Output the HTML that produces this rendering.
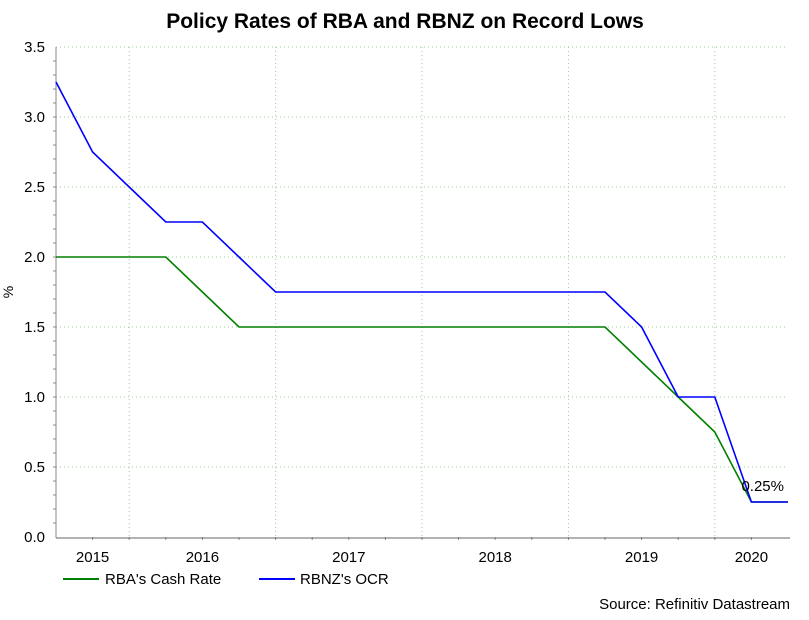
<!DOCTYPE html>
<html><head><meta charset="utf-8"><style>
body{margin:0;background:#fff;}
svg text{font-family:"Liberation Sans",Arial,sans-serif;}
</style></head><body>
<svg id="chart" width="809" height="615" xmlns="http://www.w3.org/2000/svg">
<rect width="809" height="615" fill="#fff"/>
<text x="405" y="28" text-anchor="middle" font-size="21" font-weight="bold" fill="#000">Policy Rates of RBA and RBNZ on Record Lows</text>
<g id="grid"></g>
<g id="axes"></g>
<g id="series"></g>
<text x="784" y="491" text-anchor="end" font-size="15" fill="#000">0.25%</text>
<text x="13" y="292" text-anchor="middle" font-size="14" fill="#000" transform="rotate(-90 13 292)">%</text>
<g>
<line x1="63" y1="579" x2="99" y2="579" stroke="#008000" stroke-width="2"/>
<text x="105" y="584" font-size="15" fill="#000">RBA's Cash Rate</text>
<line x1="259" y1="579" x2="295" y2="579" stroke="#0000ff" stroke-width="2"/>
<text x="300" y="584" font-size="15" fill="#000">RBNZ's OCR</text>
</g>
<text x="790" y="609" text-anchor="end" font-size="15" fill="#000">Source: Refinitiv Datastream</text>
</svg>
<script>
const rbaValues=[2.0,2.0,2.0,2.0,1.75,1.5,1.5,1.5,1.5,1.5,1.5,1.5,1.5,1.5,1.5,1.5,1.25,1.0,0.75,0.25,0.25];
const rbnzValues=[3.25,2.75,2.5,2.25,2.25,2.0,1.75,1.75,1.75,1.75,1.75,1.75,1.75,1.75,1.75,1.75,1.5,1.0,1.0,0.25,0.25];
const yTicks=[0,0.5,1.0,1.5,2.0,2.5,3.0,3.5];
const yearLabels=["2015","2016","2017","2018","2019","2020"];
const yearStarts=[0,2,6,10,14,18];
const NS="http://www.w3.org/2000/svg";
const L=56,R=788,T=47,B=537,N=rbaValues.length-1;
const xs=i=>L+(R-L)*i/N;
const ys=v=>B-(B-T)*v/3.5;
function mk(tag,attrs,parent){const e=document.createElementNS(NS,tag);for(const k in attrs)e.setAttribute(k,attrs[k]);document.getElementById(parent).appendChild(e);return e;}
yTicks.forEach(v=>{
 if(v>0){const g=mk('line',{x1:L,x2:R,y1:ys(v),y2:ys(v),stroke:'#9c9','stroke-dasharray':'1,3'},'grid');
 
 }
 const t=mk('text',{x:45,y:ys(v)+5,'text-anchor':'end','font-size':15,fill:'#000'},'axes');t.textContent=v.toFixed(1);
 
 
});
for(let k=1;k<35;k++){mk('line',{x1:L-3,x2:L,y1:ys(k*0.1),y2:ys(k*0.1),stroke:'#888'},'axes');}
yearStarts.forEach((s,j)=>{
 if(s>0){const g=mk('line',{x1:xs(s),x2:xs(s),y1:T,y2:B,stroke:'#9c9','stroke-dasharray':'1,3'},'grid');
 
 }
 const e=j+1<yearStarts.length?yearStarts[j+1]:N;
 const t=mk('text',{x:(xs(s)+xs(e))/2,y:562,'text-anchor':'middle','font-size':15,fill:'#000'},'axes');t.textContent=yearLabels[j];
 
 
});
for(let i=1;i<N;i++){mk('line',{x1:xs(i),x2:xs(i),y1:B,y2:B+3,stroke:'#888'},'axes');}
const ya=mk('line',{x1:L,x2:L,y1:T,y2:B+1,stroke:'#888'},'axes');


const xa=mk('line',{x1:L,x2:R+2,y1:B+1,y2:B+1,stroke:'#666'},'axes');


function line(vals,color,name){
 const p=mk('polyline',{points:vals.map((v,i)=>xs(i)+','+ys(v)).join(' '),fill:'none',stroke:color,'stroke-width':1.6},'series');
 
 
}
line(rbaValues,'#008000','rba-line');
line(rbnzValues,'#0000ff','rbnz-line');
</script>
</body></html>
